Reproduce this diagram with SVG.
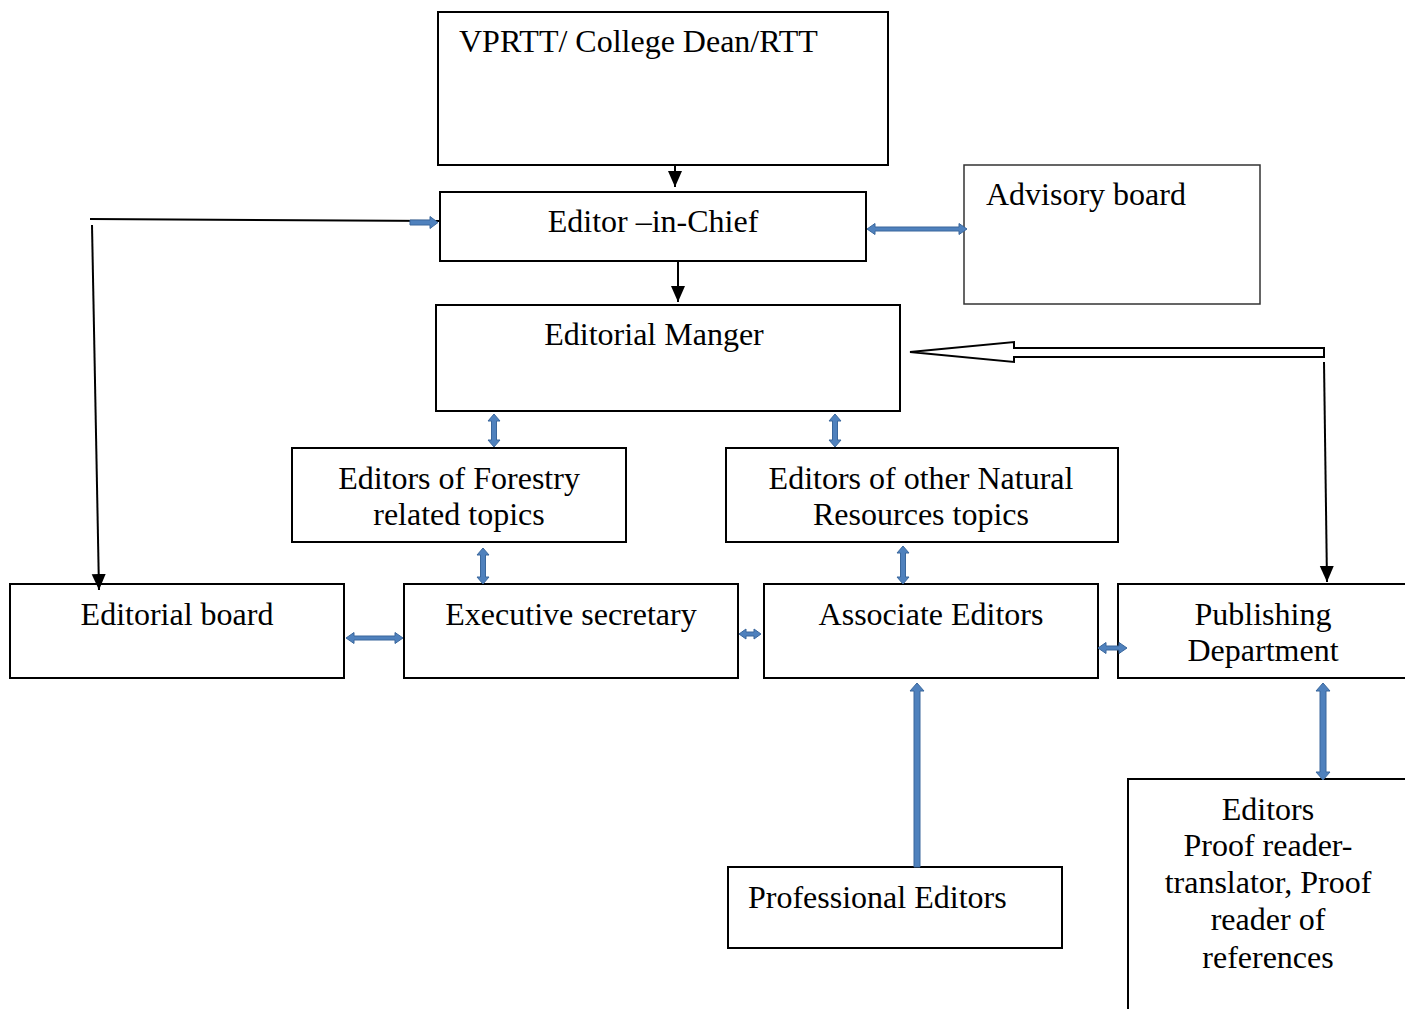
<svg xmlns="http://www.w3.org/2000/svg" width="1405" height="1009" viewBox="0 0 1405 1009">
<defs>
<style>
.box{fill:#fff;stroke:#000;stroke-width:2}
.gbox{fill:#fff;stroke:#333;stroke-width:1.5}
.t{font-family:"Liberation Serif","Times New Roman",serif;font-size:32px;fill:#000}
.c{text-anchor:middle}
.ln{fill:none;stroke:#000;stroke-width:2}
.ba{fill:#4f81bd;stroke:#3a679c;stroke-width:1}
</style>
<marker id="ahb" viewBox="0 0 16 16" refX="16" refY="8" markerWidth="16" markerHeight="16" markerUnits="userSpaceOnUse" orient="auto">
<path d="M0,1 L16,8 L0,15 Z" fill="#000"/>
</marker>
</defs>
<rect width="1405" height="1009" fill="#fff"/>

<g id="n-vprtt"><rect class="box" x="438" y="12" width="450" height="153"/><text class="t" x="459" y="52">VPRTT/ College Dean/RTT</text></g>
<g id="n-eic"><rect class="box" x="440" y="192" width="426" height="69"/><text class="t c" x="653" y="232">Editor –in-Chief</text></g>
<g id="n-advisory"><rect class="gbox" x="964" y="165" width="296" height="139"/><text class="t" x="986" y="205">Advisory board</text></g>
<g id="n-manager"><rect class="box" x="436" y="305" width="464" height="106"/><text class="t c" x="654" y="345">Editorial Manger</text></g>
<g id="n-forestry"><rect class="box" x="292" y="448" width="334" height="94"/><text class="t c" x="459" y="489">Editors of Forestry</text><text class="t c" x="459" y="525">related topics</text></g>
<g id="n-natural"><rect class="box" x="726" y="448" width="392" height="94"/><text class="t c" x="921" y="489">Editors of other Natural</text><text class="t c" x="921" y="525">Resources topics</text></g>
<g id="n-edboard"><rect class="box" x="10" y="584" width="334" height="94"/><text class="t c" x="177" y="625">Editorial board</text></g>
<g id="n-exec"><rect class="box" x="404" y="584" width="334" height="94"/><text class="t c" x="571" y="625">Executive secretary</text></g>
<g id="n-assoc"><rect class="box" x="764" y="584" width="334" height="94"/><text class="t c" x="931" y="625">Associate Editors</text></g>
<g id="n-publishing"><rect class="box" x="1118" y="584" width="300" height="94"/><text class="t c" x="1263" y="625">Publishing</text><text class="t c" x="1263" y="661">Department</text></g>
<g id="n-professional"><rect class="box" x="728" y="867" width="334" height="81"/><text class="t" x="748" y="908">Professional Editors</text></g>
<g id="n-editors"><rect class="box" x="1128" y="779" width="290" height="240"/><text class="t c" x="1268" y="820">Editors</text><text class="t c" x="1268" y="856">Proof reader-</text><text class="t c" x="1268" y="893">translator, Proof</text><text class="t c" x="1268" y="930">reader of</text><text class="t c" x="1268" y="968">references</text></g>

<g id="connectors">
<line class="ln" x1="675" y1="165" x2="675" y2="187" marker-end="url(#ahb)"/>
<line class="ln" x1="678" y1="261" x2="678" y2="302" marker-end="url(#ahb)"/>
<line class="ln" x1="90" y1="219" x2="440" y2="221"/>
<path class="ba" d="M410,220 L430,220 L430,216.5 L438,222.5 L430,228.5 L430,225 L410,225 Z"/>
<line class="ln" x1="92" y1="225" x2="99" y2="590" marker-end="url(#ahb)"/>
<line class="ln" x1="1324" y1="362" x2="1327" y2="582" marker-end="url(#ahb)"/>
<path d="M1324,348 L1014,348 L1014,342 L910,352 L1014,362 L1014,357 L1324,357 Z" fill="#fff" stroke="#000" stroke-width="2"/>
<path class="ba" d="M867,229 L875,223.5 L875,227 L959,227 L959,223.5 L967,229 L959,234.5 L959,231 L875,231 L875,234.5 Z"/>
<path class="ba" d="M346,638 L354,632.5 L354,636 L395,636 L395,632.5 L403,638 L395,643.5 L395,640 L354,640 L354,643.5 Z"/>
<path class="ba" d="M739,634 L746,629 L746,632 L754,632 L754,629 L761,634 L754,639 L754,636 L746,636 L746,639 Z"/>
<path class="ba" d="M1098,648 L1106,642.5 L1106,646 L1119,646 L1119,642.5 L1127,648 L1119,653.5 L1119,650 L1106,650 L1106,653.5 Z"/>
<path class="ba" d="M494,414 L500,421 L496.5,421 L496.5,440 L500,440 L494,447 L488,440 L491.5,440 L491.5,421 L488,421 Z"/>
<path class="ba" d="M835,414 L841,421 L837.5,421 L837.5,440 L841,440 L835,447 L829,440 L832.5,440 L832.5,421 L829,421 Z"/>
<path class="ba" d="M483,548 L489,555 L485.5,555 L485.5,577 L489,577 L483,584 L477,577 L480.5,577 L480.5,555 L477,555 Z"/>
<path class="ba" d="M903,546 L909,553 L905.5,553 L905.5,577 L909,577 L903,584 L897,577 L900.5,577 L900.5,553 L897,553 Z"/>
<path class="ba" d="M1323,683 L1330,691 L1326,691 L1326,772 L1330,772 L1323,780 L1316,772 L1320,772 L1320,691 L1316,691 Z"/>
<path class="ba" d="M917,683 L924,691 L920,691 L920,867 L914,867 L914,691 L910,691 Z"/>
</g>
</svg>
